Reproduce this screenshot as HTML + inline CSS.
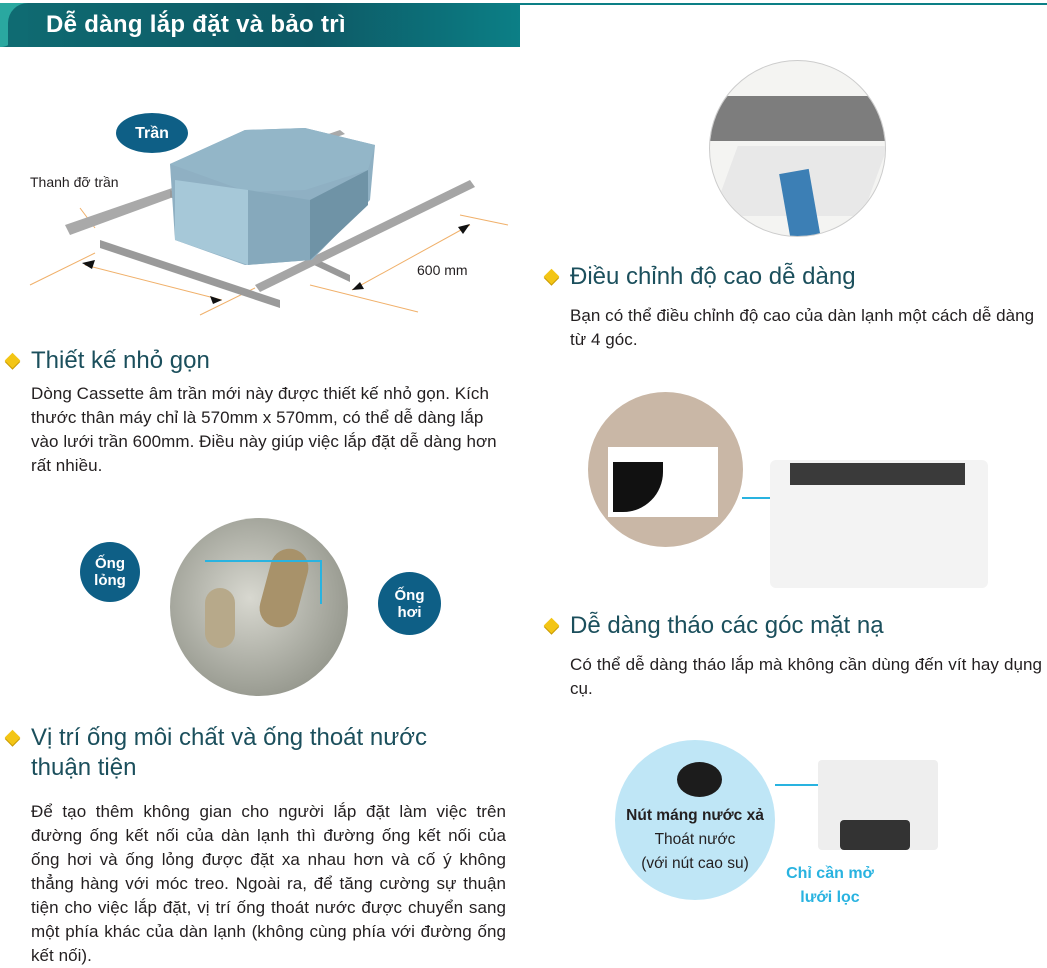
<!DOCTYPE html>
<html><head><meta charset="utf-8"><style>
body{margin:0;width:1047px;height:967px;background:#fff;position:relative;overflow:hidden;font-family:"Liberation Sans","DejaVu Sans",sans-serif;color:#231f20}
.a{position:absolute}
.h{position:absolute;font-size:24px;color:#1b4f5c;line-height:30px}
.h:before{content:"";position:absolute;left:-24px;top:9px;width:11px;height:11px;background:#f3c515;transform:rotate(45deg);box-shadow:1px 1px 0 #c99a00}
.p{position:absolute;font-size:17px;letter-spacing:0.05px;line-height:24px;color:#231f20}
.circ{position:absolute;border-radius:50%;overflow:hidden}
.bub{position:absolute;border-radius:50%;background:#0e5f86;color:#fff;font-weight:bold;font-size:15px;text-align:center;line-height:17px;display:flex;align-items:center;justify-content:center}
</style></head><body>
<div class="a" style="left:0;top:3px;width:520px;height:44px;background:linear-gradient(90deg,#0f6b72,#0d5965 60%,#0c7f86);"></div>
<div class="a" style="left:0;top:3px;width:28px;height:44px;background:#2aa8a0;border-radius:0 0 30px 0/0 0 44px 0"></div>
<div class="a" style="left:8px;top:3px;width:20px;height:44px;background:#0f6b72;border-radius:44px 0 0 0/44px 0 0 0"></div>
<div class="a" style="left:500px;top:3px;width:547px;height:2px;background:#0c7f86"></div>
<div class="a" style="left:46px;top:11px;font-size:24px;font-weight:bold;color:#fff;letter-spacing:0.3px">Dễ dàng lắp đặt và bảo trì</div>

<svg class="a" style="left:0;top:60px" width="520" height="260">
<line x1="30" y1="225" x2="95" y2="193" stroke="#f0b06a"/>
<line x1="200" y1="255" x2="255" y2="228" stroke="#f0b06a"/>
<line x1="310" y1="225" x2="418" y2="252" stroke="#f0b06a"/>
<line x1="460" y1="155" x2="508" y2="165" stroke="#f0b06a"/>
<line x1="80" y1="148" x2="95" y2="168" stroke="#f0b06a"/>
<line x1="85" y1="205" x2="222" y2="240" stroke="#f0b06a"/>
<line x1="352" y1="230" x2="470" y2="165" stroke="#f0b06a"/>
<polygon points="82,203 95,200 92,209" fill="#111"/><polygon points="222,240 210,236 213,244" fill="#111"/>
<polygon points="352,230 360,222 364,229" fill="#111"/><polygon points="470,164 458,167 463,174" fill="#111"/>
<polygon points="65,165 340,70 345,74 70,175" fill="#a9a9a9"/>
<polygon points="100,180 280,240 280,248 100,188" fill="#9a9a9a"/>
<polygon points="170,130 350,215 350,222 170,137" fill="#999"/>
<polygon points="255,225 470,120 475,127 260,232" fill="#a5a5a5"/>
<polygon points="170,104 245,70 305,68 375,85 370,140 312,200 245,205 175,180" fill="#8fb0c3"/>
<polygon points="170,104 245,70 305,68 375,85 368,110 305,130 248,132" fill="#93b6c8"/>
<polygon points="175,120 248,130 248,205 175,180" fill="#a6c8d8"/>
<polygon points="248,130 310,140 310,200 248,205" fill="#86a9bc"/>
<polygon points="310,140 368,110 368,145 310,200" fill="#6f93a6"/>
</svg>
<div class="bub" style="left:116px;top:113px;width:72px;height:40px;border-radius:50%;font-size:16px">Trần</div>
<div class="a" style="left:30px;top:174px;font-size:14px">Thanh đỡ trần</div>
<div class="a" style="left:417px;top:262px;font-size:14px">600 mm</div>

<div class="h" style="left:31px;top:346px">Thiết kế nhỏ gọn</div>
<div class="p" style="left:31px;top:382px;width:478px">Dòng Cassette âm trần mới này được thiết kế nhỏ gọn. Kích thước thân máy chỉ là 570mm x 570mm, có thể dễ dàng lắp vào lưới trần 600mm. Điều này giúp việc lắp đặt dễ dàng hơn rất nhiều.</div>

<div class="circ" style="left:170px;top:518px;width:178px;height:178px;background:radial-gradient(circle at 45% 45%,#d8d8d0,#9a9c92 70%,#7f8278)">
 <div class="a" style="left:35px;top:70px;width:30px;height:60px;background:#b7a98a;border-radius:15px"></div>
 <div class="a" style="left:95px;top:30px;width:38px;height:80px;background:#a8926a;border-radius:19px;transform:rotate(15deg)"></div>
</div>
<div class="a" style="left:205px;top:560px;width:115px;height:42px;border-top:2px solid #29b3e0;border-right:2px solid #29b3e0"></div>
<div class="bub" style="left:80px;top:542px;width:60px;height:60px">Ống<br>lỏng</div>
<div class="bub" style="left:378px;top:572px;width:63px;height:63px">Ống<br>hơi</div>

<div class="h" style="left:31px;top:723px">Vị trí ống môi chất và ống thoát nước<br>thuận tiện</div>
<div class="p" style="left:31px;top:800px;width:475px;text-align:justify">Để tạo thêm không gian cho người lắp đặt làm việc trên đường ống kết nối của dàn lạnh thì đường ống kết nối của ống hơi và ống lỏng được đặt xa nhau hơn và cố ý không thẳng hàng với móc treo. Ngoài ra, để tăng cường sự thuận tiện cho việc lắp đặt, vị trí ống thoát nước được chuyển sang một phía khác của dàn lạnh (không cùng phía với đường ống kết nối).</div>

<div class="circ" style="left:709px;top:60px;width:175px;height:175px;background:#f4f4f2;border:1px solid #ccc">
 <div class="a" style="left:0;top:35px;width:175px;height:45px;background:#7d7d7d"></div>
 <div class="a" style="left:15px;top:85px;width:150px;height:70px;background:#e8e8e8;transform:skewX(-20deg)"></div>
 <div class="a" style="left:75px;top:110px;width:30px;height:70px;background:#3c7fb5;transform:rotate(-10deg)"></div>
</div>
<div class="h" style="left:570px;top:262px">Điều chỉnh độ cao dễ dàng</div>
<div class="p" style="left:570px;top:304px;width:475px">Bạn có thể điều chỉnh độ cao của dàn lạnh một cách dễ dàng từ 4 góc.</div>

<div class="circ" style="left:588px;top:392px;width:155px;height:155px;background:#c9b7a6">
 <div class="a" style="left:20px;top:55px;width:110px;height:70px;background:#fff"></div>
 <div class="a" style="left:25px;top:70px;width:50px;height:50px;background:#111;border-radius:0 0 40px 0"></div>
</div>
<div class="a" style="left:742px;top:497px;width:30px;height:2px;background:#29b3e0"></div>
<div class="a" style="left:770px;top:460px;width:218px;height:128px;background:#f3f3f3;border-radius:6px"></div>
<div class="a" style="left:790px;top:463px;width:175px;height:22px;background:#3a3a3a"></div>

<div class="h" style="left:570px;top:611px">Dễ dàng tháo các góc mặt nạ</div>
<div class="p" style="left:570px;top:653px;width:472px;text-align:justify">Có thể dễ dàng tháo lắp mà không cần dùng đến vít hay dụng cụ.</div>

<div class="circ" style="left:615px;top:740px;width:160px;height:160px;background:#bfe6f6"></div>
<div class="a" style="left:677px;top:762px;width:45px;height:35px;background:#1c1c1c;border-radius:50%"></div>
<div class="a" style="left:612px;top:804px;width:166px;text-align:center;font-size:15.5px;line-height:24px;color:#231f20"><b>Nút máng nước xả</b><br>Thoát nước<br>(với nút cao su)</div>
<div class="a" style="left:775px;top:784px;width:45px;height:2px;background:#29b3e0"></div>
<div class="a" style="left:818px;top:760px;width:120px;height:90px;background:#eee;border-radius:4px"></div>
<div class="a" style="left:840px;top:820px;width:70px;height:30px;background:#333;border-radius:4px"></div>
<div class="a" style="left:775px;top:862px;width:110px;text-align:center;font-size:16px;font-weight:bold;color:#29b3e0;line-height:24px">Chỉ cần mở<br>lưới lọc</div>
</body></html>
